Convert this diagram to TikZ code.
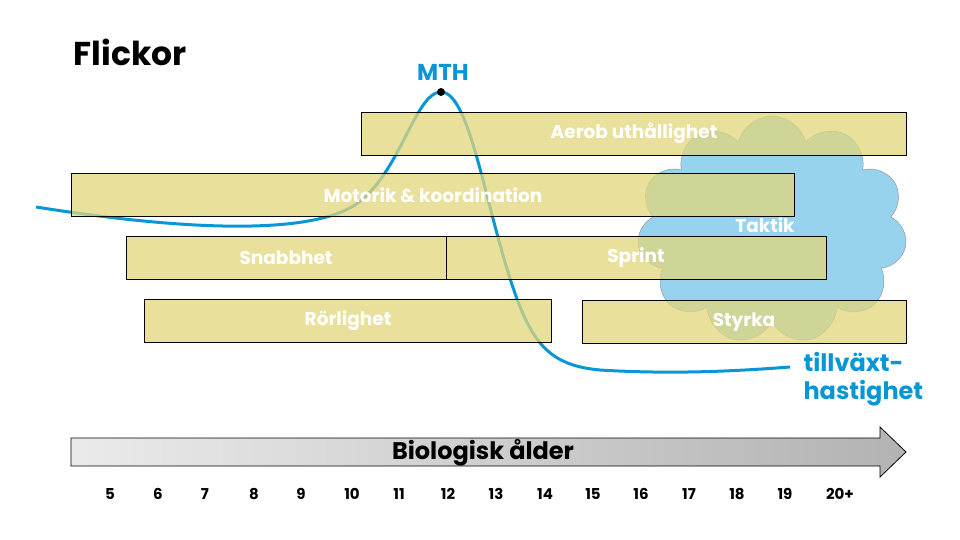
\documentclass[tikz,border=0pt]{standalone}
\usepackage{fontspec}
\setmainfont{Poppins}
\usetikzlibrary{shapes.symbols,shapes.arrows}
\definecolor{blu}{HTML}{0A96D6}
\definecolor{bar}{HTML}{E2D77A}
\definecolor{cl}{HTML}{97D3EE}
\begin{document}
\begin{tikzpicture}[x=1pt,y=-1pt,
  barbox/.style={draw=black,line width=0.9pt,fill=bar,fill opacity=0.75,text opacity=1},
  lab/.style={text=white,font=\bfseries\fontsize{18.5}{20}\selectfont},
  num/.style={font=\bfseries\fontsize{15}{17}\selectfont}]
\useasboundingbox (0,0) rectangle (960,540);
\node[anchor=west,font=\bfseries\fontsize{33}{36}\selectfont] (title) at (70,52) {Flickor};
% curve
\draw[blu,line width=3pt] (36,207) .. controls (150,225) and (300,240) .. (355,205)
  .. controls (400,175) and (415,92) .. (441,92)
  .. controls (467,92) and (482,185) .. (505,262)
  .. controls (528,340) and (545,365) .. (600,370)
  .. controls (680,375) and (750,370) .. (790,367);
\node[circle,fill=black,inner sep=0pt,minimum size=8pt] (mth) at (441,92) {};
\node[text=blu,font=\bfseries\fontsize{23}{25}\selectfont] (mthl) at (443,72) {MTH};
\node[text=blu,font=\bfseries\fontsize{24}{28}\selectfont,align=left,anchor=west] (tv) at (800,379) {tillväxt-\\hastighet};
% cloud
\node[cloud,cloud puffs=11,aspect=1.2,draw=black!45,fill=cl,minimum width=270pt,minimum height=228pt] (cloud) at (772,230) {};
% bars
\draw[barbox] (361,112) rectangle (906,155);
\draw[barbox] (71,173) rectangle (794,216);
\draw[barbox] (126,236) rectangle (446,279);
\draw[barbox] (446,236) rectangle (826,279);
\draw[barbox] (144,299) rectangle (551,342);
\draw[barbox] (582,300) rectangle (906,343);
\node[lab] (a) at (634,133) {Aerob uthållighet};
\node[lab] (m) at (433,195) {Motorik \& koordination};
\node[lab] (t) at (765,225) {Taktik};
\node[lab] (s) at (286,258) {Snabbhet};
\node[lab] (sp) at (636,258) {Sprint};
\node[lab] (r) at (348,321) {Rörlighet};
\node[lab] (st) at (744,322) {Styrka};
% arrow
\shade[left color=white!92!black,right color=black!30,draw=black,line width=0.8pt]
  (71,438) -- (880,438) -- (880,427) -- (906,452) -- (880,477) -- (880,466) -- (71,466) -- cycle;
\node[font=\bfseries\fontsize{24}{26}\selectfont] (ax) at (483,453) {Biologisk ålder};
\foreach \n/\x in {5/110,6/158,7/205,8/254,9/301,10/352,11/399,12/448,13/496,14/545,15/593,16/641,17/689,18/737,19/785,20+/840}
  \node[num] (n\x) at (\x,494) {\n};
\end{tikzpicture}
\end{document}
